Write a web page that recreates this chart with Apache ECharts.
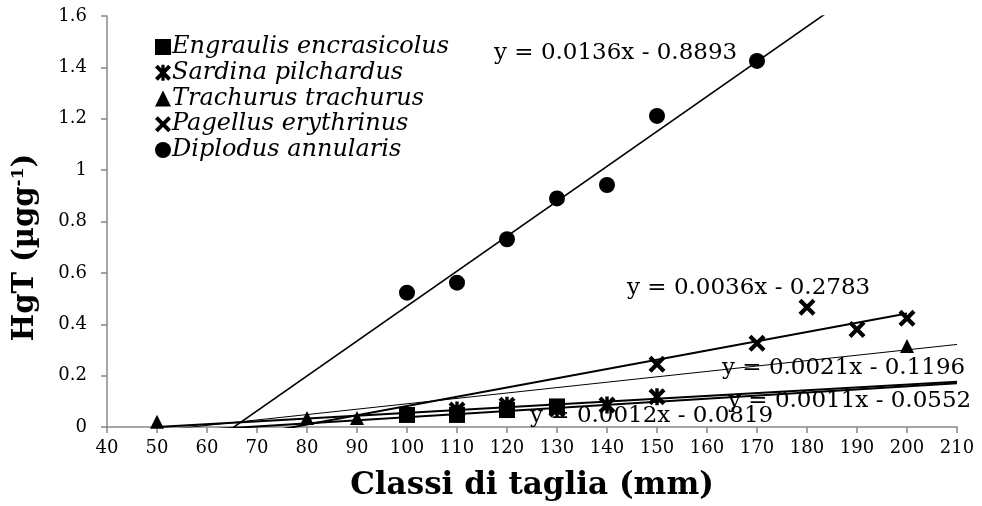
<!DOCTYPE html>
<html>
<head>
<meta charset="utf-8">
<script src="https://cdn.jsdelivr.net/npm/echarts@6/dist/echarts.min.js"></script>
<style>
  html, body { margin: 0; padding: 0; background: #fff; }
  #main { width: 982px; height: 506px; }
</style>
</head>
<body>
<div id="main"></div>
<script>
// species (legend order)
const speciesNames = ['Engraulis encrasicolus', 'Sardina pilchardus', 'Trachurus trachurus', 'Pagellus erythrinus', 'Diplodus annularis'];

// measured HgT per size class
const engraulisX = [100, 110, 120, 130];
const engraulisY = [0.047, 0.047, 0.066, 0.080];
const sardinaX = [110, 120, 130, 140, 150];
const sardinaY = [0.066, 0.085, 0.070, 0.086, 0.118];
const trachurusX = [50, 80, 90, 200];
const trachurusY = [0.020, 0.035, 0.035, 0.315];
const pagellusX = [150, 170, 180, 190, 200];
const pagellusY = [0.244, 0.326, 0.466, 0.380, 0.423];
const diplodusX = [100, 110, 120, 130, 140, 150, 170];
const diplodusY = [0.523, 0.562, 0.731, 0.890, 0.942, 1.211, 1.425];

// linear trendlines as printed on the chart (y = a x + b) and their x span
const slopes = [0.0012, 0.0011, 0.0021, 0.0036, 0.0136];
const intercepts = [-0.0819, -0.0552, -0.1196, -0.2783, -0.8893];
const trendFrom = [50, 50, 50, 50, 50];
const trendTo = [210, 210, 210, 200, 210];

const FONT = 'DejaVu Serif';
const crossPath = 'path://M3.5,0L10,6.5L16.5,0L20,3.5L13.5,10L20,16.5L16.5,20L10,13.5L3.5,20L0,16.5L6.5,10L0,3.5Z';
const starPath = 'path://M3.5,0L10,6.5L16.5,0L20,3.5L13.5,10L20,16.5L16.5,20L10,13.5L3.5,20L0,16.5L6.5,10L0,3.5Z M8,0L12,0L12,20L8,20Z';
const symbols = ['rect', starPath, 'triangle', crossPath, 'circle'];
const symbolSizes = [16, 17, 14, 17, 16];
const trendWidths = [2, 2, 1, 2, 1.6];

const xs = [engraulisX, sardinaX, trachurusX, pagellusX, diplodusX];
const ys = [engraulisY, sardinaY, trachurusY, pagellusY, diplodusY];

const fmt = v => (v < 0 ? '- ' : '+ ') + Math.abs(v).toFixed(4);
const equations = slopes.map((a, i) => 'y = ' + a.toFixed(4) + 'x ' + fmt(intercepts[i]));

const series = [];
speciesNames.forEach((name, i) => {
  series.push({
    type: 'line',
    data: [
      [trendFrom[i], slopes[i] * trendFrom[i] + intercepts[i]],
      [trendTo[i], slopes[i] * trendTo[i] + intercepts[i]]
    ],
    showSymbol: false,
    silent: true,
    clip: true,
    z: 2,
    lineStyle: { color: '#000', width: trendWidths[i] }
  });
});
speciesNames.forEach((name, i) => {
  series.push({
    name: name,
    type: 'scatter',
    symbol: symbols[i],
    symbolSize: symbolSizes[i],
    itemStyle: { color: '#000', opacity: 1 },
    z: 3,
    data: xs[i].map((x, j) => [x, ys[i][j]])
  });
});

// equation label placement (px), same order as species
const eqPos = [[530, 405], [728, 390], [722, 357], [627, 277], [494, 42]];

const chart = echarts.init(document.getElementById('main'));
chart.setOption({
  animation: false,
  backgroundColor: '#fff',
  grid: { left: 107, right: 25, top: 16, bottom: 79 },
  legend: {
    orient: 'vertical',
    left: 150,
    top: 30,
    itemWidth: 16,
    itemHeight: 16,
    itemGap: 1.75,
    data: speciesNames.map((n, i) => ({ name: n, icon: symbols[i] })),
    itemStyle: { color: '#000' },
    textStyle: { fontFamily: FONT, fontStyle: 'italic', fontSize: 24, color: '#000', padding: [0, 0, 0, -4] }
  },
  xAxis: {
    type: 'value',
    min: 40,
    max: 210,
    interval: 10,
    name: 'Classi di taglia (mm)',
    nameLocation: 'middle',
    nameGap: 43,
    nameTextStyle: { fontFamily: FONT, fontWeight: 'bold', fontSize: 31, color: '#000' },
    axisLine: { lineStyle: { color: '#888', width: 1.5 } },
    axisTick: { length: 6, lineStyle: { color: '#888', width: 1.5 } },
    axisLabel: { fontFamily: FONT, fontSize: 18, color: '#000', margin: 12 },
    splitLine: { show: false }
  },
  yAxis: {
    type: 'value',
    min: 0,
    max: 1.6,
    interval: 0.2,
    name: 'HgT (µgg{sup|-1})',
    nameLocation: 'middle',
    nameGap: 66,
    nameTextStyle: {
      fontFamily: FONT, fontWeight: 'bold', fontSize: 29, color: '#000', padding: [0, 52, 0, 0],
      rich: { sup: { fontFamily: FONT, fontWeight: 'bold', fontSize: 17, color: '#000', verticalAlign: 'top', padding: [0, 0, 14, 0] } }
    },
    axisLine: { show: true, lineStyle: { color: '#888', width: 1.5 } },
    axisTick: { show: true, length: 6, lineStyle: { color: '#888', width: 1.5 } },
    axisLabel: { fontFamily: FONT, fontSize: 18, color: '#000', margin: 20 },
    splitLine: { show: false }
  },
  graphic: equations.map((t, i) => ({
    type: 'text',
    left: eqPos[i][0],
    top: eqPos[i][1],
    z: 10,
    style: { text: t, fontFamily: FONT, fontSize: 23, fill: '#000' }
  })),
  series: series
});
</script>
</body>
</html>
